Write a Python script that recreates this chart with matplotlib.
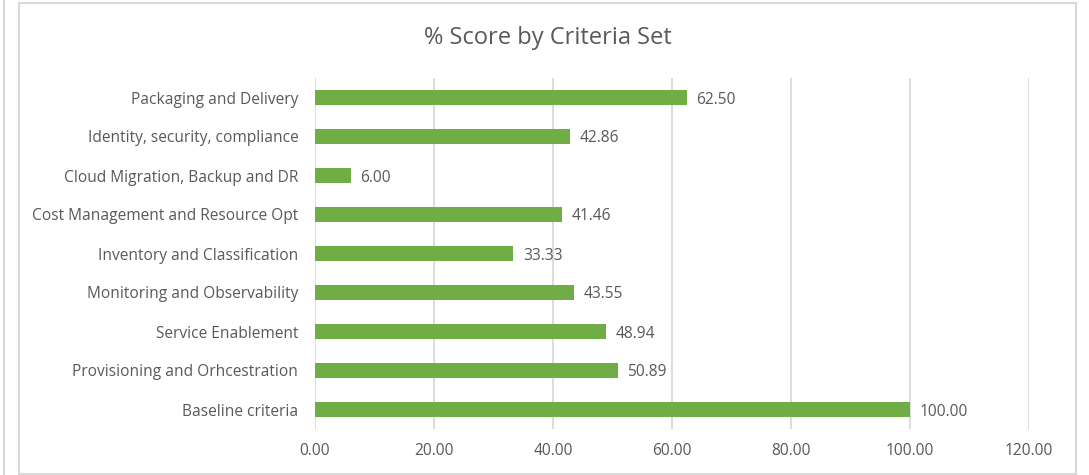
import matplotlib
matplotlib.use("Agg")
import matplotlib.pyplot as plt
from matplotlib.patches import Rectangle
from matplotlib.lines import Line2D

categories = ["Baseline criteria", "Provisioning and Orhcestration", "Service Enablement",
              "Monitoring and Observability", "Inventory and Classification",
              "Cost Management and Resource Opt", "Cloud Migration, Backup and DR",
              "Identity, security, compliance", "Packaging and Delivery"]
values = [100.00, 50.89, 48.94, 43.55, 33.33, 41.46, 6.00, 42.86, 62.50]
xticks = [0, 20, 40, 60, 80, 100, 120]
title = "% Score by Criteria Set"

W, H = 1089, 475
fig = plt.figure(figsize=(W / 100, H / 100), dpi=100)
plt.rcParams['font.family'] = ['Open Sans', 'DejaVu Sans']
text_color = "#595959"
grid_color = "#D9D9D9"
bar_color = "#70AD47"
fs = 11.2

# outer frames
fig.add_artist(Rectangle((19 / W, 1 - 474 / H), (1076 - 19) / W, (474 - 3) / H,
                         transform=fig.transFigure, fill=False, edgecolor=grid_color, lw=1.5))
fig.add_artist(Line2D([3.5 / W, 3.5 / W], [0, 1], transform=fig.transFigure, color=grid_color, lw=1.5))

ax = fig.add_axes([315 / W, 1 - 429 / H, (1029 - 315) / W, (429 - 78) / H])
y = range(len(categories))
ax.barh(y, values, height=0.36, color=bar_color, zorder=3)
ax.set_xlim(0, 120)
ax.set_ylim(-0.5, len(categories) - 0.5)
ax.set_xticks(xticks)
ax.set_xticklabels([f"{v:.2f}" for v in xticks], color=text_color, fontsize=fs)
ax.set_yticks(list(y))
ax.set_yticklabels(categories, color=text_color, fontsize=fs)
ax.tick_params(axis='both', length=0)
ax.tick_params(axis='x', pad=10)
ax.tick_params(axis='y', pad=12)
ax.grid(axis='x', color=grid_color, lw=1.3, zorder=0)
for s in ax.spines.values():
    s.set_visible(False)
for i, v in enumerate(values):
    ax.annotate(f"{v:.2f}", (v, i), xytext=(7, 0), textcoords='offset points',
                va='center_baseline', ha='left', color=text_color, fontsize=fs)

fig.text(547.5 / W, 1 - 38 / H, title, ha='center', va='center', fontsize=17, color=text_color)

fig.savefig("out.png", dpi=100, facecolor="white")
